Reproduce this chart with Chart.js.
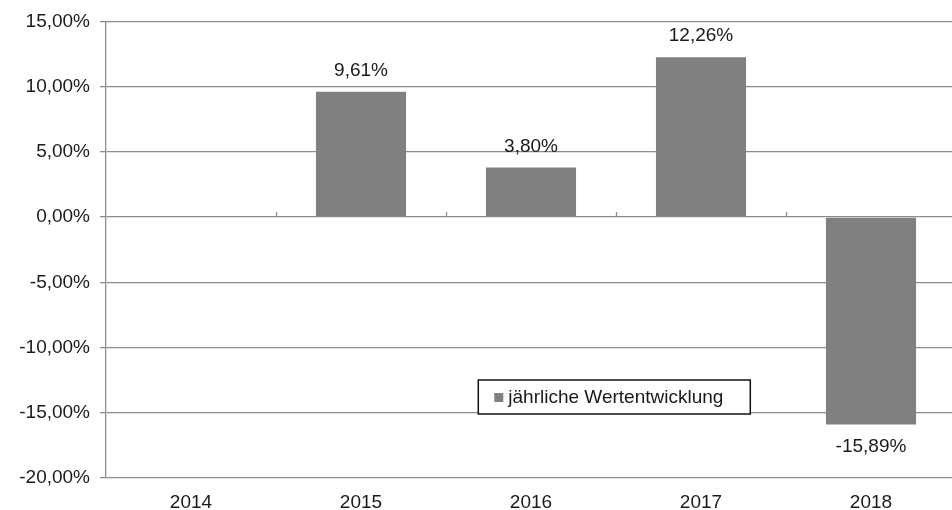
<!DOCTYPE html>
<html>
<head>
<meta charset="utf-8">
<script src="https://cdn.jsdelivr.net/npm/chart.js@4"></script>
<style>
  body { margin: 0; background: #fff; overflow: hidden; }
  #wrap { width: 960px; height: 510px; }
</style>
</head>
<body>
<div id="wrap"><canvas id="chart" width="960" height="510"></canvas></div>
<script>
// Chart data
const years = ['2014', '2015', '2016', '2017', '2018'];
const wertentwicklung = [null, 9.61, 3.80, 12.26, -15.89];
const seriesLabel = 'jährliche Wertentwicklung';
const yMin = -20;
const yMax = 15;
const yStep = 5;

const FONT = "'Liberation Sans', Arial, sans-serif";
const BAR_COLOR = '#808080';
const GRID_COLOR = '#8c8c8c';

// Format a number like 9.61 -> "9,61%"
function pct(v) {
    return v.toFixed(2).replace('.', ',') + '%';
}

// Value labels above / below each bar
const valueLabels = {
    id: 'valueLabels',
    afterDatasetsDraw(chart) {
        const ctx = chart.ctx;
        const meta = chart.getDatasetMeta(0);
        ctx.save();
        ctx.font = '19px ' + FONT;
        ctx.fillStyle = '#1a1a1a';
        ctx.textAlign = 'center';
        ctx.textBaseline = 'middle';
        meta.data.forEach((bar, i) => {
            const v = chart.data.datasets[0].data[i];
            if (v === null) return;
            const y = v >= 0 ? bar.y - 21 : bar.y + 22;
            ctx.fillText(pct(v), bar.x, y);
        });
        ctx.restore();
    }
};

// Small category tick marks on the zero line
const zeroTicks = {
    id: 'zeroTicks',
    afterDraw(chart) {
        const ctx = chart.ctx;
        const x = chart.scales.x;
        const y0 = chart.scales.y.getPixelForValue(0);
        const step = (x.right - x.left) / years.length;
        ctx.save();
        ctx.strokeStyle = GRID_COLOR;
        ctx.lineWidth = 1.3;
        for (let i = 1; i < years.length; i++) {
            const px = Math.round(x.left + step * i) + 0.5;
            ctx.beginPath();
            ctx.moveTo(px, y0);
            ctx.lineTo(px, y0 - 5);
            ctx.stroke();
        }
        ctx.restore();
    }
};

// Legend box inside the plot area
const boxLegend = {
    id: 'boxLegend',
    afterDraw(chart) {
        const ctx = chart.ctx;
        const a = chart.chartArea;
        const left = a.left + (a.right - a.left) * 0.438;
        const top = 380;
        const w = 272, h = 34;
        ctx.save();
        ctx.fillStyle = '#fff';
        ctx.fillRect(left, top, w, h);
        ctx.strokeStyle = '#111';
        ctx.lineWidth = 1.5;
        ctx.strokeRect(left, top, w, h);
        ctx.fillStyle = BAR_COLOR;
        ctx.fillRect(left + 16, top + 13, 9, 9);
        ctx.font = '19px ' + FONT;
        ctx.fillStyle = '#1a1a1a';
        ctx.textBaseline = 'middle';
        ctx.fillText(chart.data.datasets[0].label, left + 30, top + h / 2 + 1);
        ctx.restore();
    }
};

document.addEventListener('DOMContentLoaded', function () {
    const ctx = document.getElementById('chart').getContext('2d');
    new Chart(ctx, {
        type: 'bar',
        data: {
            labels: years,
            datasets: [{
                label: seriesLabel,
                data: wertentwicklung,
                backgroundColor: BAR_COLOR,
                borderWidth: 0,
                barPercentage: 0.53,
                categoryPercentage: 1.0
            }]
        },
        options: {
            responsive: false,
            animation: false,
            layout: { padding: { top: 20, right: 4, left: 0, bottom: 0 } },
            plugins: {
                legend: { display: false },
                tooltip: { enabled: false }
            },
            scales: {
                x: {
                    grid: { display: false, drawTicks: false },
                    border: { display: false },
                    ticks: {
                        color: '#1a1a1a',
                        font: { family: FONT, size: 19 },
                        padding: 13
                    },
                    afterFit(scale) { scale.height = 32; }
                },
                y: {
                    min: yMin,
                    max: yMax,
                    grid: {
                        color: GRID_COLOR,
                        lineWidth: 1.3,
                        tickLength: 6
                    },
                    border: { color: GRID_COLOR, width: 1.3 },
                    ticks: {
                        stepSize: yStep,
                        color: '#1a1a1a',
                        font: { family: FONT, size: 19 },
                        padding: 10,
                        callback: v => pct(v)
                    },
                    afterFit(scale) { scale.width = 106; }
                }
            }
        },
        plugins: [valueLabels, zeroTicks, boxLegend]
    });
});
</script>
</body>
</html>
